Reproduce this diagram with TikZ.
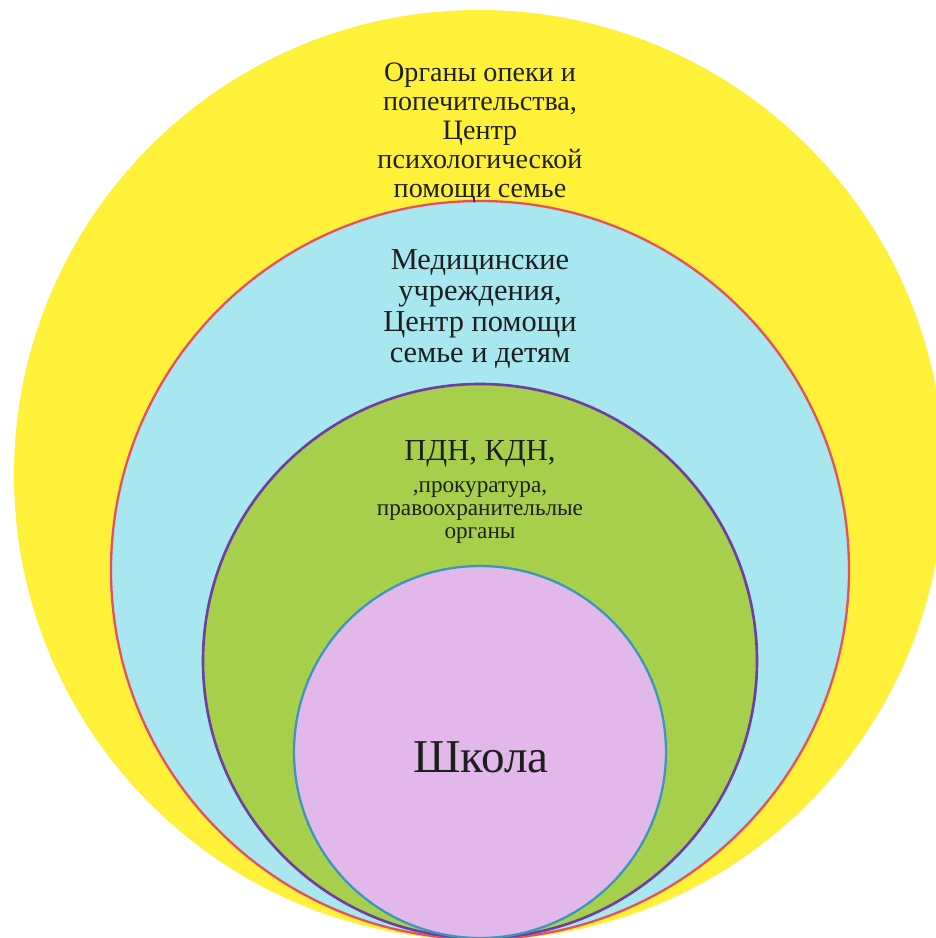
\documentclass[tikz,border=0pt]{standalone}
\usepackage{fontspec}
\setmainfont{Liberation Serif}
\definecolor{yel}{HTML}{FFF13A}
\definecolor{sky}{HTML}{A8E6F0}
\definecolor{grn}{HTML}{A6D04C}
\definecolor{pnk}{HTML}{E2B8EA}
\definecolor{redline}{HTML}{E5505C}
\definecolor{purline}{HTML}{6E3FA0}
\definecolor{tealline}{HTML}{3C96BE}
\definecolor{ink}{HTML}{1E1E1E}
\tikzset{
  lbl/.style={align=center, text=ink, inner sep=0pt},
}
\begin{document}
\begin{tikzpicture}[x=0.02cm,y=-0.02cm]
\useasboundingbox (0,0) rectangle (936,938);
\clip (0,0) rectangle (936,938);
\fill[white] (0,0) rectangle (936,938);
% outer yellow
\fill[yel] (479,475) circle[radius=465];
% light blue with red rim
\filldraw[fill=sky, draw=redline, line width=1.3pt] (480,570) circle[radius=369];
% green with purple rim
\filldraw[fill=grn, draw=purline, line width=1.5pt] (480,661) circle[radius=277];
% pink with teal rim
\filldraw[fill=pnk, draw=tealline, line width=1.3pt] (480,752) circle[radius=186];
% labels
\node[lbl, font=\fontsize{16}{16.6}\selectfont] (t1) at (480,133)
  {Органы опеки и\\попечительства,\\Центр\\психологической\\помощи семье};
\node[lbl, font=\fontsize{17.3}{17.6}\selectfont] (t2) at (480,309)
  {Медицинские\\учреждения,\\Центр помощи\\семье и детям};
\node[lbl, font=\fontsize{13.2}{13.2}\selectfont] (t3) at (480,492)
  {{\fontsize{17.4}{17.4}\selectfont ПДН, КДН,}\\[5pt]
   ,прокуратура,\\
   правоохранительлые\\
   органы};
\node[lbl, font=\fontsize{26.8}{30}\selectfont] (t4) at (481,757) {Школа};
\end{tikzpicture}
\end{document}
